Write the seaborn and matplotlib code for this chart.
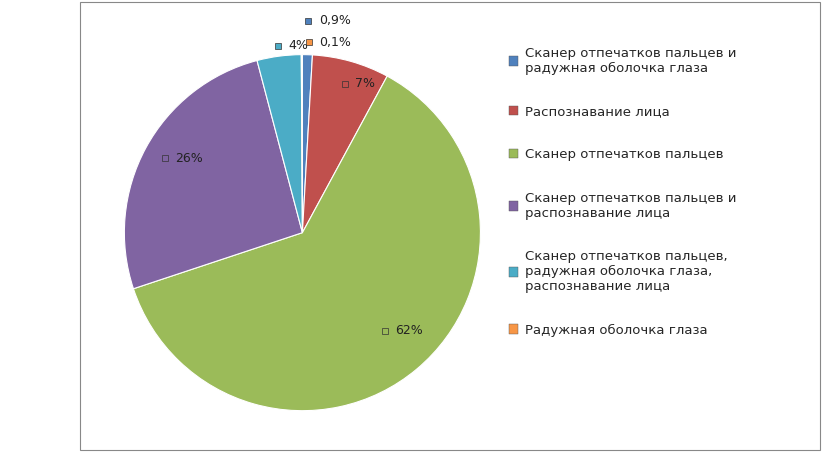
import numpy as np
import matplotlib
matplotlib.use("Agg")
import matplotlib.pyplot as plt
from matplotlib.patches import Patch, Rectangle
import seaborn as sns

sns.set_theme(style="white")
plt.rcParams['font.family'] = ['DejaVu Sans']

categories = ["Сканер отпечатков пальцев и\nрадужная оболочка глаза",
              "Распознавание лица",
              "Сканер отпечатков пальцев",
              "Сканер отпечатков пальцев и\nраспознавание лица",
              "Сканер отпечатков пальцев,\nрадужная оболочка глаза,\nраспознавание лица",
              "Радужная оболочка глаза"]
values = [0.9, 7, 62, 26, 4, 0.1]
labels = ["0,9%", "7%", "62%", "26%", "4%", "0,1%"]
colors = ["#4F81BD", "#C0504D", "#9BBB59", "#8064A2", "#4BACC6", "#F79646"]

fig = plt.figure(figsize=(8.4, 4.63), dpi=100)
fig.patches.append(Rectangle((0.095, 0.028), 0.881, 0.968, transform=fig.transFigure,
                             fill=False, edgecolor="#888888", lw=0.8))
ax = fig.add_axes([0.148, 0.113, 0.424, 0.769])
wedges, _ = ax.pie(values, colors=colors, startangle=90, counterclock=False,
                   wedgeprops=dict(edgecolor="white", linewidth=0.8))
ax.set_xlim(-1, 1)
ax.set_ylim(-1, 1)
ax.set_aspect("equal")

# label placement (radius, extra x shift)
dist = [1.19, 0.87, 0.72, 0.88, 1.06, 1.07]
xshift = [0.0, 0.0, 0.0, 0.0, 0.0, 0.04]
for w, lab, c, r, dx in zip(wedges, labels, colors, dist, xshift):
    ang = np.deg2rad((w.theta1 + w.theta2) / 2)
    x, y = r * np.cos(ang) + dx, r * np.sin(ang)
    ax.plot(x, y, marker="s", color=c, markersize=5, markeredgecolor="#333333",
            markeredgewidth=0.5, clip_on=False)
    ax.text(x + 0.06, y, lab, fontsize=9, va="center", ha="left", color="#222222",
            clip_on=False)

handles = [Patch(facecolor=c, edgecolor="#555555", linewidth=0.3) for c in colors]
fig.legend(handles, categories, loc="upper left", bbox_to_anchor=(0.592, 0.925),
           frameon=False, fontsize=9.5, labelspacing=2.3, handlelength=0.7,
           handleheight=0.7, handletextpad=0.5)
fig.savefig("out.png", dpi=100)
